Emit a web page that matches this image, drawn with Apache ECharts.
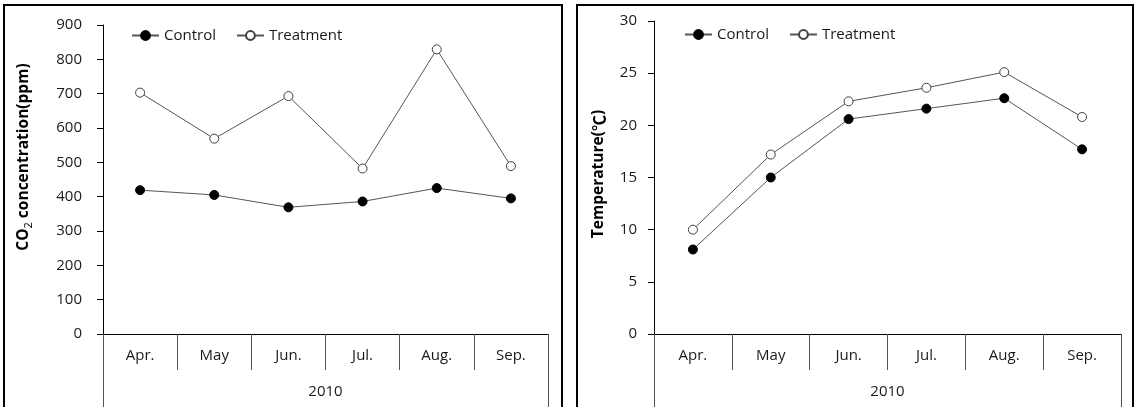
<!DOCTYPE html>
<html>
<head>
<meta charset="utf-8">
<script src="https://cdn.jsdelivr.net/npm/echarts@6/dist/echarts.min.js"></script>
<style>html,body{margin:0;padding:0;background:#fff;}#c{width:1135px;height:407px;}</style>
</head>
<body>
<div id="c"></div>
<script>
const categories = ['Apr.', 'May', 'Jun.', 'Jul.', 'Aug.', 'Sep.'];
const yearLabel = ['2010'];
const seriesNames = ['Control', 'Treatment'];
const co2Control = [419, 405, 369, 386, 425, 395];
const co2Treatment = [703, 569, 693, 482, 829, 489];
const tempControl = [8.1, 15.0, 20.6, 21.6, 22.6, 17.7];
const tempTreatment = [10.0, 17.2, 22.3, 23.6, 25.1, 20.8];
const co2Axis = { min: 0, max: 900, interval: 100 };
const tempAxis = { min: 0, max: 30, interval: 5 };

const FONT = "'Open Sans', 'Noto Sans CJK SC', sans-serif";
const txt = { fontFamily: FONT, fontSize: 15, color: '#1a1a1a' };

function xAxes(g) {
  return [
    {
      gridIndex: g, type: 'category', data: categories, position: 'bottom', boundaryGap: true,
      axisLine: { show: true, lineStyle: { color: '#000', width: 1 } },
      axisTick: { show: true, length: 36, interval: 0, lineStyle: { color: '#555', width: 1 } },
      axisLabel: Object.assign({ margin: 14, interval: 0 }, txt)
    },
    {
      gridIndex: g, type: 'category', data: yearLabel, position: 'bottom', offset: 36, boundaryGap: true,
      axisLine: { show: false },
      axisTick: { show: true, length: 45, interval: 0, lineStyle: { color: '#555', width: 1 } },
      axisLabel: Object.assign({ margin: 14 }, txt)
    }
  ];
}
function yAxis(g, cfg, margin) {
  return {
    gridIndex: g, type: 'value', min: cfg.min, max: cfg.max, interval: cfg.interval,
    axisLine: { show: true, lineStyle: { color: '#000', width: 1 } },
    axisTick: { show: true, length: 6, lineStyle: { color: '#000', width: 1 } },
    splitLine: { show: false },
    axisLabel: Object.assign({ margin: margin }, txt)
  };
}
function lineSeries(name, data, xi, yi, filled) {
  return {
    name: name, type: 'line', xAxisIndex: xi, yAxisIndex: yi, data: data,
    symbol: 'circle', symbolSize: 9,
    itemStyle: filled ? { color: '#000', borderColor: '#000', borderWidth: 1 } : { color: '#fff', borderColor: '#404040', borderWidth: 1 },
    lineStyle: { color: '#555', width: 1 },
    emphasis: { disabled: true }
  };
}

const chart = echarts.init(document.getElementById('c'), null, { renderer: 'canvas' });
chart.setOption({
  animation: false,
  backgroundColor: '#fff',
  grid: [
    { left: 103, top: 25, width: 445, height: 309 },
    { left: 654, top: 21, width: 467, height: 313 }
  ],
  xAxis: xAxes(0).concat(xAxes(1)),
  yAxis: [yAxis(0, co2Axis, 21), yAxis(1, tempAxis, 17)],
  legend: [
    { data: seriesNames, left: 131, top: 28, padding: 0, itemWidth: 27, itemHeight: 11, itemGap: 20, textStyle: txt, selectedMode: false },
    { data: seriesNames, left: 684, top: 27, padding: 0, itemWidth: 27, itemHeight: 11, itemGap: 20, textStyle: txt, selectedMode: false }
  ],
  series: [
    lineSeries(seriesNames[0], co2Control, 0, 0, true),
    lineSeries(seriesNames[1], co2Treatment, 0, 0, false),
    lineSeries(seriesNames[0], tempControl, 2, 1, true),
    lineSeries(seriesNames[1], tempTreatment, 2, 1, false)
  ],
  graphic: [
    { type: 'rect', shape: { x: 4, y: 5, width: 558, height: 430 }, style: { fill: 'none', stroke: '#000', lineWidth: 2 }, silent: true },
    { type: 'rect', shape: { x: 577, y: 5, width: 556, height: 430 }, style: { fill: 'none', stroke: '#000', lineWidth: 2 }, silent: true },
    {
      type: 'text', x: 24, y: 157, rotation: Math.PI / 2,
      style: {
        text: '{a|CO}{b|2}{a| concentration(ppm)}', align: 'center', verticalAlign: 'middle',
        rich: {
          a: { fontFamily: FONT, fontSize: 15.5, fontWeight: 'bold', fill: '#000', lineHeight: 20 },
          b: { fontFamily: FONT, fontSize: 11, fill: '#000', lineHeight: 10, verticalAlign: 'bottom' }
        }
      }, silent: true
    },
    {
      type: 'text', x: 599, y: 174, rotation: Math.PI / 2,
      style: {
        text: '{a|Temperature(}{c|℃}{a|)}', align: 'center', verticalAlign: 'middle',
        rich: {
          a: { fontFamily: FONT, fontSize: 15.5, fontWeight: 'bold', fill: '#000', lineHeight: 20 },
          c: { fontFamily: "'Noto Sans CJK SC', sans-serif", fontSize: 16, fontWeight: 'bold', fill: '#000', lineHeight: 20 }
        }
      },
      silent: true
    }
  ]
});
</script>
</body>
</html>
